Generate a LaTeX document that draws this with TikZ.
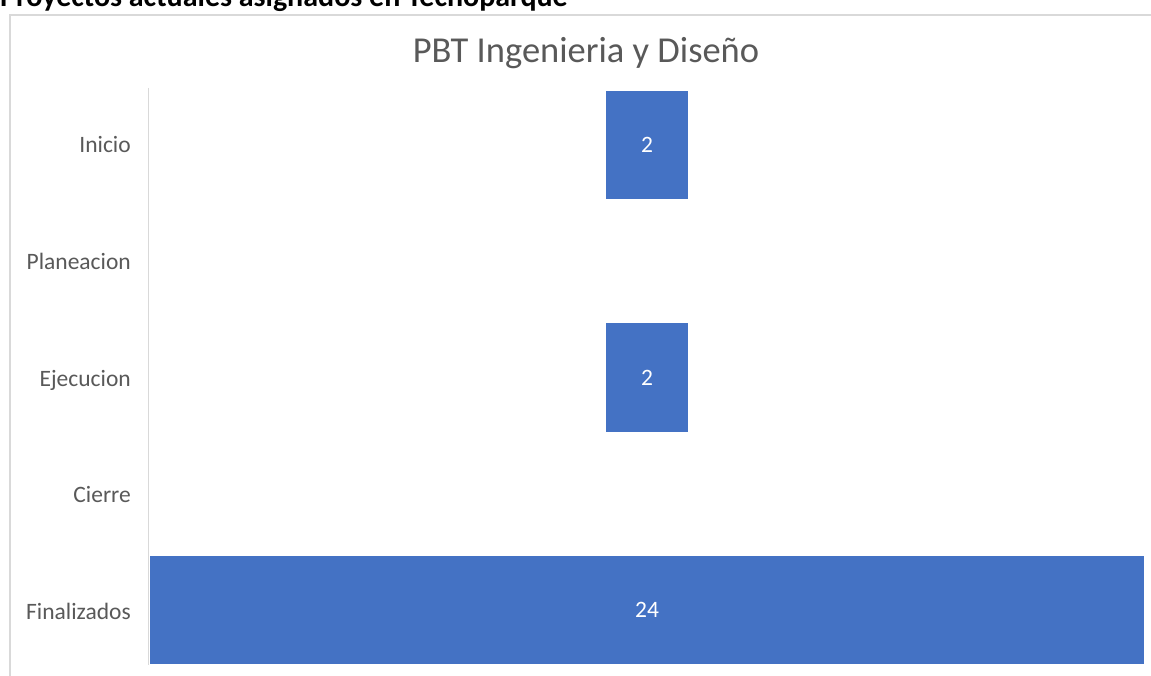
\documentclass[tikz,border=0pt]{standalone}
\usepackage{fontspec}
\setmainfont{Carlito}
\definecolor{barblue}{HTML}{4472C4}
\definecolor{axgray}{HTML}{D9D9D9}
\definecolor{txtgray}{HTML}{595959}
\begin{document}
\begin{tikzpicture}[x=1pt,y=-1pt,
  cat/.style={anchor=base east, text=txtgray, font=\fontsize{23.5}{28}\selectfont, inner sep=0pt},
  bar/.style={fill=barblue, draw=none, inner sep=0pt, text=white, font=\fontsize{23.5}{28}\selectfont},
  gridline/.style={axgray, line width=1.5pt}
]
\useasboundingbox (0,0) rectangle (1151,676);
\clip (0,0) rectangle (1151,676);
\fill[white] (0,0) rectangle (1151,676);
% page heading (cut off at the top, as in the source)
\node[anchor=base west, inner sep=0pt, font=\bfseries\fontsize{30}{36}\selectfont] (head) at (0,7) {Proyectos actuales asignados en Tecnoparque};
% chart frame
\draw[gridline] (10,700) -- (10,15) -- (1170,15);
% chart title
\node[anchor=base, inner sep=0pt, text=txtgray, font=\fontsize{36.5}{42}\selectfont] (title) at (586,63) {PBT Ingenieria y Diseño};
% axis
\coordinate (axtop) at (148.5,88);
\coordinate (axbot) at (148.5,665);
\draw[gridline] (axtop) -- (axbot);
% categories
\node[cat] (c1) at (131,153) {Inicio};
\node[cat] (c2) at (131,269.5) {Planeacion};
\node[cat] (c3) at (131,386) {Ejecucion};
\node[cat] (c4) at (131,502.5) {Cierre};
\node[cat] (c5) at (131,619) {Finalizados};
% bars
\node[bar, minimum width=82pt, minimum height=108pt] (b1) at (647,145) {2};
\node[bar, minimum width=82pt, minimum height=109pt] (b3) at (647,377.5) {2};
\node[bar, minimum width=994pt, minimum height=108pt] (b5) at (647,610) {24};
\end{tikzpicture}
\end{document}
